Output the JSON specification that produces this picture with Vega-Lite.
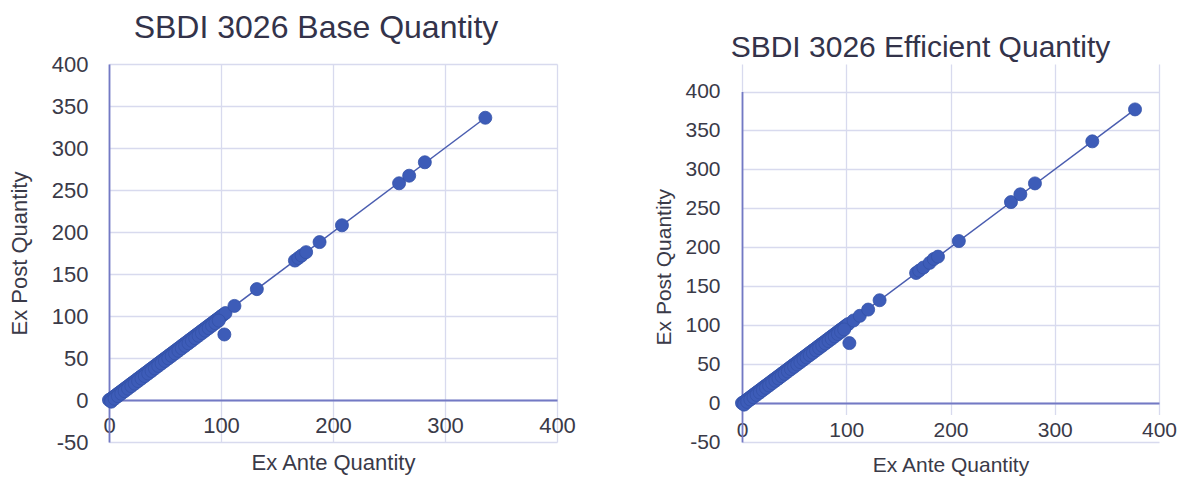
{
  "$schema": "https://vega.github.io/schema/vega-lite/v6.json",
  "background": "white",
  "padding": {"left": 8, "top": 11, "right": 7, "bottom": 4},
  "spacing": 77,
  "bounds": "full",
  "datasets": {
    "base": [
      {"ante": 0, "post": 0}, {"ante": 1.5, "post": 1}, {"ante": 3, "post": 2.5}, {"ante": 4.5, "post": 4}, {"ante": 6, "post": 5.5},
      {"ante": 7.5, "post": 7}, {"ante": 9, "post": 8.5}, {"ante": 10.5, "post": 10}, {"ante": 12, "post": 11.5}, {"ante": 13.5, "post": 13},
      {"ante": 15, "post": 14.5}, {"ante": 16.5, "post": 16}, {"ante": 18, "post": 17.5}, {"ante": 19.5, "post": 19}, {"ante": 21, "post": 20.5},
      {"ante": 22.5, "post": 22}, {"ante": 24, "post": 23.5}, {"ante": 25.5, "post": 25}, {"ante": 27, "post": 26.5}, {"ante": 28.5, "post": 28},
      {"ante": 30, "post": 29.5}, {"ante": 31.5, "post": 31}, {"ante": 33, "post": 32.5}, {"ante": 34.5, "post": 34}, {"ante": 36, "post": 35.5},
      {"ante": 37.5, "post": 37}, {"ante": 39, "post": 38.5}, {"ante": 40.5, "post": 40}, {"ante": 42, "post": 41.5}, {"ante": 43.5, "post": 43},
      {"ante": 45, "post": 44.5}, {"ante": 46.5, "post": 46}, {"ante": 48, "post": 47.5}, {"ante": 49.5, "post": 49}, {"ante": 51, "post": 50.5},
      {"ante": 52.5, "post": 52}, {"ante": 54, "post": 53.5}, {"ante": 55.5, "post": 55}, {"ante": 57, "post": 56.5}, {"ante": 58.5, "post": 58},
      {"ante": 60, "post": 59.5}, {"ante": 61.5, "post": 61}, {"ante": 63, "post": 62.5}, {"ante": 64.5, "post": 64}, {"ante": 66, "post": 65.5},
      {"ante": 67.5, "post": 67}, {"ante": 69, "post": 68.5}, {"ante": 70.5, "post": 70}, {"ante": 72, "post": 71.5}, {"ante": 73.5, "post": 73},
      {"ante": 75, "post": 74.5}, {"ante": 76.5, "post": 76}, {"ante": 78, "post": 77.5}, {"ante": 79.5, "post": 79}, {"ante": 81, "post": 80.5},
      {"ante": 82.5, "post": 82}, {"ante": 84, "post": 83.5}, {"ante": 85.5, "post": 85}, {"ante": 87, "post": 86.5}, {"ante": 88.5, "post": 88},
      {"ante": 90, "post": 89.5}, {"ante": 91.5, "post": 91}, {"ante": 93, "post": 92.5}, {"ante": 94.5, "post": 94}, {"ante": 96, "post": 95.5},
      {"ante": 97.5, "post": 97}, {"ante": 99, "post": 98.5}, {"ante": 100.5, "post": 100}, {"ante": 102, "post": 101.5}, {"ante": 104, "post": 103.5},
      {"ante": 2, "post": -2}, {"ante": 5, "post": 1.5}, {"ante": 8, "post": 4.5}, {"ante": 11, "post": 7.5}, {"ante": 14, "post": 10.5},
      {"ante": 17, "post": 13.5}, {"ante": 20, "post": 16.5}, {"ante": 23, "post": 19.5}, {"ante": 26, "post": 22.5}, {"ante": 29, "post": 25.5},
      {"ante": 32, "post": 28.5}, {"ante": 35, "post": 31.5}, {"ante": 38, "post": 34.5}, {"ante": 41, "post": 37.5}, {"ante": 44, "post": 40.5},
      {"ante": 47, "post": 43.5}, {"ante": 50, "post": 46.5}, {"ante": 53, "post": 49.5}, {"ante": 56, "post": 52.5}, {"ante": 59, "post": 55.5},
      {"ante": 62, "post": 58.5}, {"ante": 65, "post": 61.5}, {"ante": 68, "post": 64.5}, {"ante": 71, "post": 67.5}, {"ante": 74, "post": 70.5},
      {"ante": 77, "post": 73.5}, {"ante": 80, "post": 76.5}, {"ante": 83, "post": 79.5}, {"ante": 86, "post": 82.5}, {"ante": 89, "post": 85.5},
      {"ante": 92, "post": 88.5}, {"ante": 95, "post": 91.5}, {"ante": 98, "post": 94.5},
      {"ante": 103, "post": 78}, {"ante": 112, "post": 112}, {"ante": 132, "post": 132}, {"ante": 166, "post": 166},
      {"ante": 169, "post": 169}, {"ante": 172, "post": 172}, {"ante": 176, "post": 176}, {"ante": 188, "post": 188}, {"ante": 208, "post": 208},
      {"ante": 259, "post": 258}, {"ante": 268, "post": 267}, {"ante": 282, "post": 283}, {"ante": 336, "post": 336}
    ],
    "baseTrend": [{"ante": 0, "post": 0}, {"ante": 336, "post": 336}],
    "eff": [
      {"ante": 0, "post": 0}, {"ante": 1.5, "post": 1}, {"ante": 3, "post": 2.5}, {"ante": 4.5, "post": 4}, {"ante": 6, "post": 5.5},
      {"ante": 7.5, "post": 7}, {"ante": 9, "post": 8.5}, {"ante": 10.5, "post": 10}, {"ante": 12, "post": 11.5}, {"ante": 13.5, "post": 13},
      {"ante": 15, "post": 14.5}, {"ante": 16.5, "post": 16}, {"ante": 18, "post": 17.5}, {"ante": 19.5, "post": 19}, {"ante": 21, "post": 20.5},
      {"ante": 22.5, "post": 22}, {"ante": 24, "post": 23.5}, {"ante": 25.5, "post": 25}, {"ante": 27, "post": 26.5}, {"ante": 28.5, "post": 28},
      {"ante": 30, "post": 29.5}, {"ante": 31.5, "post": 31}, {"ante": 33, "post": 32.5}, {"ante": 34.5, "post": 34}, {"ante": 36, "post": 35.5},
      {"ante": 37.5, "post": 37}, {"ante": 39, "post": 38.5}, {"ante": 40.5, "post": 40}, {"ante": 42, "post": 41.5}, {"ante": 43.5, "post": 43},
      {"ante": 45, "post": 44.5}, {"ante": 46.5, "post": 46}, {"ante": 48, "post": 47.5}, {"ante": 49.5, "post": 49}, {"ante": 51, "post": 50.5},
      {"ante": 52.5, "post": 52}, {"ante": 54, "post": 53.5}, {"ante": 55.5, "post": 55}, {"ante": 57, "post": 56.5}, {"ante": 58.5, "post": 58},
      {"ante": 60, "post": 59.5}, {"ante": 61.5, "post": 61}, {"ante": 63, "post": 62.5}, {"ante": 64.5, "post": 64}, {"ante": 66, "post": 65.5},
      {"ante": 67.5, "post": 67}, {"ante": 69, "post": 68.5}, {"ante": 70.5, "post": 70}, {"ante": 72, "post": 71.5}, {"ante": 73.5, "post": 73},
      {"ante": 75, "post": 74.5}, {"ante": 76.5, "post": 76}, {"ante": 78, "post": 77.5}, {"ante": 79.5, "post": 79}, {"ante": 81, "post": 80.5},
      {"ante": 82.5, "post": 82}, {"ante": 84, "post": 83.5}, {"ante": 85.5, "post": 85}, {"ante": 87, "post": 86.5}, {"ante": 88.5, "post": 88},
      {"ante": 90, "post": 89.5}, {"ante": 91.5, "post": 91}, {"ante": 93, "post": 92.5}, {"ante": 94.5, "post": 94}, {"ante": 96, "post": 95.5},
      {"ante": 97.5, "post": 97}, {"ante": 99, "post": 98.5}, {"ante": 100.5, "post": 100}, {"ante": 102, "post": 101.5},
      {"ante": 2, "post": -2}, {"ante": 5, "post": 1.5}, {"ante": 8, "post": 4.5}, {"ante": 11, "post": 7.5}, {"ante": 14, "post": 10.5},
      {"ante": 17, "post": 13.5}, {"ante": 20, "post": 16.5}, {"ante": 23, "post": 19.5}, {"ante": 26, "post": 22.5}, {"ante": 29, "post": 25.5},
      {"ante": 32, "post": 28.5}, {"ante": 35, "post": 31.5}, {"ante": 38, "post": 34.5}, {"ante": 41, "post": 37.5}, {"ante": 44, "post": 40.5},
      {"ante": 47, "post": 43.5}, {"ante": 50, "post": 46.5}, {"ante": 53, "post": 49.5}, {"ante": 56, "post": 52.5}, {"ante": 59, "post": 55.5},
      {"ante": 62, "post": 58.5}, {"ante": 65, "post": 61.5}, {"ante": 68, "post": 64.5}, {"ante": 71, "post": 67.5}, {"ante": 74, "post": 70.5},
      {"ante": 77, "post": 73.5}, {"ante": 80, "post": 76.5}, {"ante": 83, "post": 79.5}, {"ante": 86, "post": 82.5}, {"ante": 89, "post": 85.5},
      {"ante": 92, "post": 88.5}, {"ante": 95, "post": 91.5}, {"ante": 98, "post": 94.5},
      {"ante": 103, "post": 77}, {"ante": 107, "post": 106}, {"ante": 113, "post": 112}, {"ante": 121, "post": 120}, {"ante": 132, "post": 132},
      {"ante": 167, "post": 167}, {"ante": 170, "post": 170}, {"ante": 174, "post": 174}, {"ante": 180, "post": 180}, {"ante": 184, "post": 185},
      {"ante": 188, "post": 188}, {"ante": 208, "post": 208}, {"ante": 258, "post": 258}, {"ante": 267, "post": 268}, {"ante": 281, "post": 282},
      {"ante": 336, "post": 336}, {"ante": 377, "post": 377}
    ],
    "effTrend": [{"ante": 0, "post": 0}, {"ante": 377, "post": 377}]
  },
  "config": {
    "font": "Liberation Sans",
    "view": {"stroke": null},
    "axis": {
      "labelFont": "Liberation Sans", "labelFontSize": 22, "labelColor": "#3A3A48",
      "titleFont": "Liberation Sans", "titleFontSize": 22, "titleFontWeight": "normal", "titleColor": "#3A3A48",
      "ticks": false, "tickSize": 0,
      "gridColor": "#D8DAEE", "gridWidth": 1.3,
      "domainColor": "#7379C4", "domainWidth": 1.8,
      "labelFlush": false, "labelOverlap": false,
      "labelExpr": "'' + datum.value"
    },
    "title": {"font": "Liberation Sans", "fontSize": 32, "fontWeight": "normal", "color": "#33334A", "baseline": "bottom", "anchor": "middle", "frame": "group"}
  },
  "hconcat": [
    {
      "width": 448,
      "height": 378,
      "title": {"text": "SBDI 3026 Base Quantity", "offset": 8.5, "dx": -17},
      "encoding": {
        "x": {"field": "ante", "type": "quantitative", "scale": {"domain": [0, 400], "nice": false, "zero": false},
              "axis": {"title": "Ex Ante Quantity", "values": [0, 100, 200, 300, 400], "offset": -42, "labelPadding": 15, "titlePadding": 16}},
        "y": {"field": "post", "type": "quantitative", "scale": {"domain": [-50, 400], "nice": false, "zero": false},
              "axis": {"title": "Ex Post Quantity", "values": [-50, 0, 50, 100, 150, 200, 250, 300, 350, 400], "labelPadding": 21, "titlePadding": 20}}
      },
      "layer": [
        {"data": {"name": "baseTrend"}, "mark": {"type": "line", "color": "#4A5DB0", "strokeWidth": 1.5}, "encoding": {}},
        {"data": {"name": "base"}, "mark": {"type": "circle", "size": 170, "opacity": 1, "color": "#3D5CB8", "stroke": "#3352A8", "strokeWidth": 0.8}, "encoding": {}}
      ]
    },
    {
      "width": 417,
      "height": 378,
      "title": {"text": "SBDI 3026 Efficient Quantity", "fontSize": 30, "offset": 1, "dx": -30},
      "encoding": {
        "x": {"field": "ante", "type": "quantitative", "scale": {"domain": [0, 400], "nice": false, "zero": false},
              "axis": {"title": "Ex Ante Quantity", "titleFontSize": 21, "labelFontSize": 21, "values": [0, 100, 200, 300, 400], "offset": -39, "labelPadding": 16, "titlePadding": 14}},
        "y": {"field": "post", "type": "quantitative", "scale": {"domain": [-50, 400], "range": [378, 27.5], "nice": false, "zero": false},
              "axis": {"title": "Ex Post Quantity", "titleFontSize": 21, "labelFontSize": 21, "values": [-50, 0, 50, 100, 150, 200, 250, 300, 350, 400], "labelPadding": 22, "titlePadding": 10}}
      },
      "layer": [
        {"data": {"name": "effTrend"}, "mark": {"type": "line", "color": "#4A5DB0", "strokeWidth": 1.5}, "encoding": {}},
        {"data": {"name": "eff"}, "mark": {"type": "circle", "size": 170, "opacity": 1, "color": "#3D5CB8", "stroke": "#3352A8", "strokeWidth": 0.8}, "encoding": {}}
      ]
    }
  ]
}
